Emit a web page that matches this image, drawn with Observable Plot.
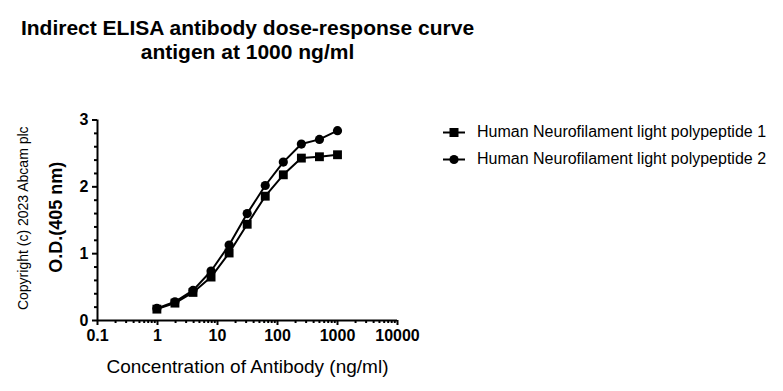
<!DOCTYPE html>
<html><head><meta charset="utf-8">
<script src="https://cdn.jsdelivr.net/npm/d3@7"></script>
<script src="https://cdn.jsdelivr.net/npm/@observablehq/plot@0.6"></script>
<style>
body{margin:0;background:#fff;font-family:"Liberation Sans",Arial,sans-serif;color:#000}
#wrap{position:relative;width:783px;height:391px;overflow:hidden}
#chart{position:absolute;left:0;top:0}
#title{position:absolute;left:0;top:16px;width:495px;text-align:center;font-weight:bold;font-size:21px;line-height:24px}
#legend{position:absolute;left:443px;top:118.5px;font-size:16px}
.row{display:flex;align-items:center;height:27px;white-space:nowrap}
.row svg{margin-right:12px;display:block}
</style></head><body>
<div id="wrap"><div id="chart"></div><div id="title">Indirect ELISA antibody dose-response curve<br>antigen at 1000 ng/ml</div><div id="legend"></div></div>
<script>
const titleLines = ["Indirect ELISA antibody dose-response curve", "antigen at 1000 ng/ml"];
const xLabel = "Concentration of Antibody (ng/ml)";
const yLabel = "O.D.(405 nm)";
const copyright = "Copyright (c) 2023 Abcam plc";
const seriesNames = ["Human Neurofilament light polypeptide 1", "Human Neurofilament light polypeptide 2"];
const concentrations = [0.977, 1.953, 3.906, 7.8125, 15.625, 31.25, 62.5, 125, 250, 500, 1000];
const series1 = [0.17, 0.26, 0.42, 0.65, 1.01, 1.44, 1.86, 2.18, 2.43, 2.45, 2.48];
const series2 = [0.18, 0.28, 0.45, 0.74, 1.13, 1.60, 2.02, 2.37, 2.64, 2.71, 2.84];
const xTicks = [0.1, 1, 10, 100, 1000, 10000];
const xTickLabels = ["0.1", "1", "10", "100", "1000", "10000"];
const yTicks = [0, 1, 2, 3];
const yTickLabels = ["0", "1", "2", "3"];
const yMinorTicks = [0.2, 0.4, 0.6, 0.8, 1.2, 1.4, 1.6, 1.8, 2.2, 2.4, 2.6, 2.8];
const xMinorTicks = [0.2,0.3,0.4,0.5,0.6,0.7,0.8,0.9, 2,3,4,5,6,7,8,9, 20,30,40,50,60,70,80,90, 200,300,400,500,600,700,800,900, 2000,3000,4000,5000,6000,7000,8000,9000];

const data = concentrations.flatMap((c, i) => [
  {c, v: series1[i], s: seriesNames[0]},
  {c, v: series2[i], s: seriesNames[1]}
]);

const chart = Plot.plot({
  width: 783, height: 391,
  marginLeft: 97, marginRight: 386, marginTop: 119.5, marginBottom: 71,
  style: {fontFamily: "Liberation Sans, Arial, sans-serif", fontSize: "16px", color: "#000", background: "#fff"},
  x: {type: "log", domain: [0.1, 10000]},
  y: {domain: [0, 3]},
  marks: [
    Plot.axisX(xMinorTicks, {tickSize: 3, strokeWidth: 2, text: null, label: null}),
    Plot.axisX(xTicks, {tickSize: 5, tickPadding: 4, strokeWidth: 2, fontSize: 16, fontWeight: "bold", tickFormat: d => xTickLabels[xTicks.indexOf(d)], label: null}),
    Plot.axisY(yMinorTicks, {tickSize: 3, strokeWidth: 2, text: null, label: null}),
    Plot.axisY(yTicks, {tickSize: 5, tickPadding: 4, strokeWidth: 2, fontSize: 16, fontWeight: "bold", tickFormat: d => yTickLabels[yTicks.indexOf(d)], label: null}),
    Plot.ruleY([0], {strokeWidth: 2}),
    Plot.ruleX([0.1], {strokeWidth: 2}),
    Plot.line(data, {x: "c", y: "v", z: "s", stroke: "#000", strokeWidth: 2}),
    Plot.dot(data.filter(d => d.s === seriesNames[1]), {x: "c", y: "v", symbol: "circle", r: 4.6, fill: "#000", stroke: "none"}),
    Plot.dot(data.filter(d => d.s === seriesNames[0]), {x: "c", y: "v", symbol: "square", r: 5, fill: "#000", stroke: "none"}),
    Plot.text([xLabel], {text: d => d, frameAnchor: "bottom", dy: 46, textAnchor: "middle", lineAnchor: "middle", fontSize: 19}),
    Plot.text([yLabel], {text: d => d, frameAnchor: "left", dx: -41, dy: -3, rotate: -90, textAnchor: "middle", lineAnchor: "middle", fontSize: 18, fontWeight: "bold"}),
    Plot.text([copyright], {text: d => d, frameAnchor: "left", dx: -74, dy: -2, rotate: -90, textAnchor: "middle", lineAnchor: "middle", fontSize: 14})
  ]
});
document.getElementById("chart").appendChild(chart);

const legend = document.getElementById("legend");
seriesNames.forEach((name, i) => {
  const row = document.createElement("div");
  row.className = "row";
  const marker = i === 0
    ? '<rect x="6.5" y="3" width="9" height="9" fill="#000"/>'
    : '<circle cx="11" cy="7.5" r="4.6" fill="#000"/>';
  row.innerHTML = '<svg width="22" height="15"><line x1="0" x2="22" y1="7.5" y2="7.5" stroke="#000" stroke-width="2"/>' + marker + '</svg><span>' + name + '</span>';
  legend.appendChild(row);
});
</script>
</body></html>
